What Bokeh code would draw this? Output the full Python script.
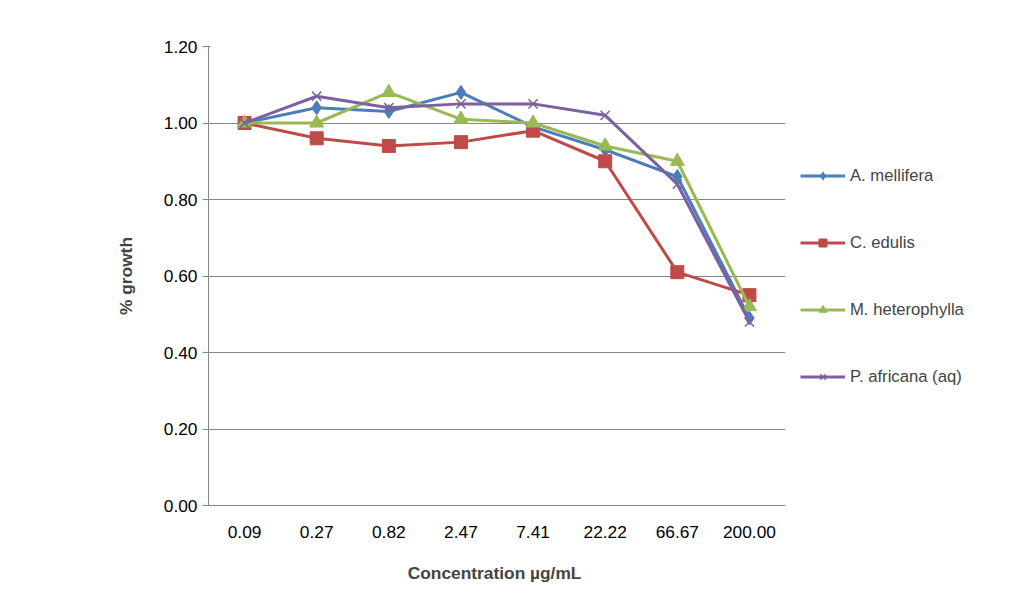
from bokeh.plotting import figure
from bokeh.models import Legend, LegendItem, FactorRange, NumeralTickFormatter, FixedTicker
from bokeh.embed import file_html
from bokeh.resources import INLINE

concs = ["0.09", "0.27", "0.82", "2.47", "7.41", "22.22", "66.67", "200.00"]
mellifera = [1.00, 1.04, 1.03, 1.08, 0.99, 0.93, 0.86, 0.49]
edulis = [1.00, 0.96, 0.94, 0.95, 0.98, 0.90, 0.61, 0.55]
heterophylla = [1.00, 1.00, 1.08, 1.01, 1.00, 0.94, 0.90, 0.52]
africana = [1.00, 1.07, 1.04, 1.05, 1.05, 1.02, 0.84, 0.48]

p = figure(frame_width=577, frame_height=459, x_range=FactorRange(*concs), y_range=(0, 1.2),
           output_backend="svg", toolbar_location=None,
           min_border_left=208, min_border_top=46, min_border_bottom=85, min_border_right=0)
p.outline_line_color = None
p.xgrid.grid_line_color = None
p.ygrid.grid_line_color = "#868686"
p.yaxis.ticker = FixedTicker(ticks=[0, 0.2, 0.4, 0.6, 0.8, 1.0, 1.2])
p.yaxis.formatter = NumeralTickFormatter(format="0.00")
for ax in (p.xaxis[0], p.yaxis[0]):
    ax.axis_line_color = "#868686"
    ax.major_tick_line_color = "#868686"
    ax.minor_tick_line_color = None
    ax.major_label_text_font = "Liberation Sans"
    ax.major_label_text_font_size = "13pt"
    ax.major_label_text_color = "#000000"
    ax.axis_label_text_font = "Liberation Sans"
    ax.axis_label_text_font_size = "13pt"
    ax.axis_label_text_font_style = "bold"
p.yaxis.axis_label = "% growth"
p.xaxis.axis_label = "Concentration  µg/mL"
p.xaxis.major_tick_line_color = None
p.xaxis.major_label_standoff = 14
p.xaxis.axis_label_standoff = 22
p.yaxis.axis_label_standoff = 25

items = []
r1 = [p.line(concs, mellifera, color="#4A7EBB", line_width=3),
      p.scatter(concs, mellifera, marker="diamond", size=14, color="#4A7EBB")]
items.append(LegendItem(label="A. mellifera", renderers=r1))
r2 = [p.line(concs, edulis, color="#BE4B48", line_width=3),
      p.scatter(concs, edulis, marker="square", size=13, color="#BE4B48")]
items.append(LegendItem(label="C. edulis", renderers=r2))
r3 = [p.line(concs, heterophylla, color="#98B954", line_width=3),
      p.scatter(concs, heterophylla, marker="triangle", size=14, color="#98B954")]
items.append(LegendItem(label="M. heterophylla", renderers=r3))
r4 = [p.line(concs, africana, color="#7D60A0", line_width=3),
      p.scatter(concs, africana, marker="x", size=13, color="#7D60A0", line_width=1.5)]
items.append(LegendItem(label="P. africana (aq)", renderers=r4))

leg = Legend(items=items, location="left", spacing=47, glyph_width=45, glyph_height=20,
             label_text_font="Liberation Sans", label_text_font_size="12.5pt",
             border_line_color=None, background_fill_alpha=0, margin=15, padding=5)
p.add_layout(leg, "right")

open("out.html", "w").write(file_html(p, INLINE))
